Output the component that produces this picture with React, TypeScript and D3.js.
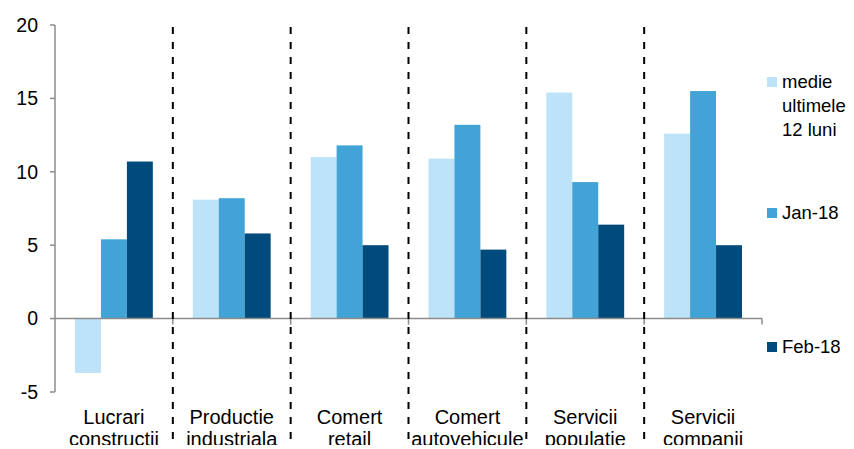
import React, { useEffect, useRef } from 'react';
import * as d3 from 'd3';

const categories = [
  ['Lucrari', 'constructii'],
  ['Productie', 'industriala'],
  ['Comert', 'retail'],
  ['Comert', 'autovehicule'],
  ['Servicii', 'populatie'],
  ['Servicii', 'companii'],
];
const seriesNames = ['medie ultimele 12 luni', 'Jan-18', 'Feb-18'];
const medie12 = [-3.7, 8.1, 11.0, 10.9, 15.4, 12.6];
const jan18 = [5.4, 8.2, 11.8, 13.2, 9.3, 15.5];
const feb18 = [10.7, 5.8, 5.0, 4.7, 6.4, 5.0];
const yTicks = [-5, 0, 5, 10, 15, 20];
const colors = ['#BDE3F8', '#41A3D6', '#004A7C'];

const App = () => {
  const svgRef: any = useRef();

  useEffect(() => {
    const width = 854;
    const height = 449;
    const font = 'Liberation Sans, Arial, sans-serif';
    const values = [medie12, jan18, feb18];

    const svg = d3.select(svgRef.current)
      .attr('width', width)
      .attr('height', height)
      .style('font-family', font);
    svg.selectAll('*').remove();

    const y = d3.scaleLinear().domain([-5, 20]).range([392, 25]);
    const idx = categories.map((_, i) => i);
    const x = d3.scaleBand<number>().domain(idx).range([55, 762]).padding(0);
    const bw = x.bandwidth();
    const xs = d3.scaleBand<number>().domain([0, 1, 2]).range([20, bw - 20]).padding(0);

    // bars
    values.forEach((vals, s) => {
      svg.append('g')
        .selectAll('rect')
        .data(vals)
        .join('rect')
        .attr('x', (_, i) => (x(i) as number) + (xs(s) as number))
        .attr('width', xs.bandwidth())
        .attr('y', d => y(Math.max(0, d)))
        .attr('height', d => Math.abs(y(d) - y(0)))
        .attr('fill', colors[s]);
    });

    // y axis
    svg.append('line')
      .attr('x1', 55).attr('x2', 55)
      .attr('y1', y(20)).attr('y2', y(-5))
      .attr('stroke', '#8c8c8c').attr('stroke-width', 1.5);
    yTicks.forEach(t => {
      svg.append('line')
        .attr('x1', 50).attr('x2', 55)
        .attr('y1', y(t)).attr('y2', y(t))
        .attr('stroke', '#8c8c8c').attr('stroke-width', 1.5);
      svg.append('text')
        .attr('x', 38).attr('y', y(t))
        .attr('dy', '0.35em')
        .attr('text-anchor', 'end')
        .attr('font-size', 19.5)
        .attr('fill', '#000')
        .text(t);
    });

    // zero line + category ticks
    svg.append('line')
      .attr('x1', 55).attr('x2', 762)
      .attr('y1', y(0)).attr('y2', y(0))
      .attr('stroke', '#8c8c8c').attr('stroke-width', 1.5);
    idx.forEach(i => {
      const bx = (x(i) as number) + bw;
      svg.append('line')
        .attr('x1', bx).attr('x2', bx)
        .attr('y1', y(0)).attr('y2', y(0) + 6)
        .attr('stroke', '#8c8c8c').attr('stroke-width', 1.5);
    });

    // dashed separators
    idx.slice(1).forEach(i => {
      const bx = x(i) as number;
      svg.append('line')
        .attr('x1', bx).attr('x2', bx)
        .attr('y1', 27).attr('y2', height)
        .attr('stroke', '#000').attr('stroke-width', 2)
        .attr('stroke-dasharray', '7,8');
    });

    // category labels
    categories.forEach((lines, i) => {
      const cx = (x(i) as number) + bw / 2;
      lines.forEach((ln, k) => {
        svg.append('text')
          .attr('x', cx).attr('y', 424 + k * 22)
          .attr('text-anchor', 'middle')
          .attr('font-size', 20)
          .attr('fill', '#000')
          .text(ln);
      });
    });

    // legend
    const legend = [
      { lines: ['medie', 'ultimele', '12 luni'], y: 82 },
      { lines: ['Jan-18'], y: 213 },
      { lines: ['Feb-18'], y: 347 },
    ];
    legend.forEach((item, s) => {
      svg.append('rect')
        .attr('x', 767).attr('y', item.y - 5)
        .attr('width', 10).attr('height', 10)
        .attr('fill', colors[s]);
      item.lines.forEach((ln, k) => {
        svg.append('text')
          .attr('x', 782).attr('y', item.y + k * 24)
          .attr('dy', '0.35em')
          .attr('font-size', 18.5)
          .attr('fill', '#000')
          .text(ln);
      });
    });
  }, []);

  return (
    <div style={{ margin: -8 }}>
      <svg ref={svgRef} aria-label={seriesNames.join(', ')}></svg>
    </div>
  );
};

export default App;
